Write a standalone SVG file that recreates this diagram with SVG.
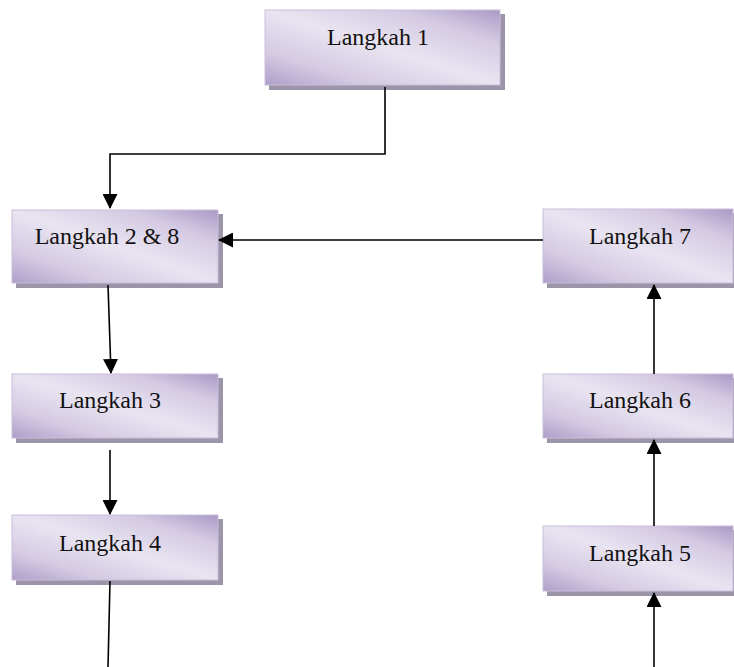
<svg xmlns="http://www.w3.org/2000/svg" width="734" height="667" viewBox="0 0 734 667">
<defs>
<linearGradient id="g" x1="0" y1="1" x2="1" y2="0">
<stop offset="0" stop-color="#ad9ec8"/>
<stop offset="0.22" stop-color="#d4cae3"/>
<stop offset="0.5" stop-color="#e9e4f1"/>
<stop offset="0.78" stop-color="#d4cae3"/>
<stop offset="1" stop-color="#a999c5"/>
</linearGradient>
<marker id="ah" markerUnits="userSpaceOnUse" markerWidth="15" markerHeight="15" refX="14" refY="7.5" orient="auto" viewBox="0 0 15 15">
<path d="M0,0 L15,7.5 L0,15 z" fill="#000"/>
</marker>
<style>
.sh{fill:#9c94a9}
.bx{fill:url(#g);stroke:#c9bedb;stroke-width:1}
.t{font-family:"Liberation Serif","Times New Roman",serif;font-size:24px;fill:#111;text-anchor:middle}
.c{fill:none;stroke:#000;stroke-width:1.6}
</style>
</defs>
<g id="n1">
<rect class="sh" x="269" y="14" width="236" height="76"/>
<rect class="bx" x="265" y="10" width="235" height="75"/>
<text class="t" x="378" y="45">Langkah 1</text>
</g>
<g id="n2">
<rect class="sh" x="16" y="214" width="207" height="74"/>
<rect class="bx" x="12" y="210" width="206" height="73"/>
<text class="t" x="107" y="244">Langkah 2 &amp; 8</text>
</g>
<g id="n3">
<rect class="sh" x="16" y="378" width="207" height="65"/>
<rect class="bx" x="12" y="374" width="206" height="64"/>
<text class="t" x="110" y="408">Langkah 3</text>
</g>
<g id="n4">
<rect class="sh" x="16" y="519" width="207" height="66"/>
<rect class="bx" x="12" y="515" width="206" height="65"/>
<text class="t" x="110" y="551">Langkah 4</text>
</g>
<g id="n7">
<rect class="sh" x="547" y="213" width="190" height="75"/>
<rect class="bx" x="543" y="209" width="190" height="74"/>
<text class="t" x="640" y="244">Langkah 7</text>
</g>
<g id="n6">
<rect class="sh" x="547" y="378" width="190" height="65"/>
<rect class="bx" x="543" y="374" width="190" height="64"/>
<text class="t" x="640" y="408">Langkah 6</text>
</g>
<g id="n5">
<rect class="sh" x="547" y="530" width="190" height="66"/>
<rect class="bx" x="543" y="526" width="190" height="65"/>
<text class="t" x="640" y="561">Langkah 5</text>
</g>
<g id="connectors">
<path class="c" d="M385,87 L385,154 L110,154 L110,208" marker-end="url(#ah)"/>
<path class="c" d="M543,240 L219,240" marker-end="url(#ah)"/>
<path class="c" d="M108,285 L111,373" marker-end="url(#ah)"/>
<path class="c" d="M110,450 L110,514" marker-end="url(#ah)"/>
<path class="c" d="M110,581 L108,667"/>
<path class="c" d="M654,667 L654,593" marker-end="url(#ah)"/>
<path class="c" d="M654,526 L654,440" marker-end="url(#ah)"/>
<path class="c" d="M654,374 L654,285" marker-end="url(#ah)"/>
</g>
</svg>
